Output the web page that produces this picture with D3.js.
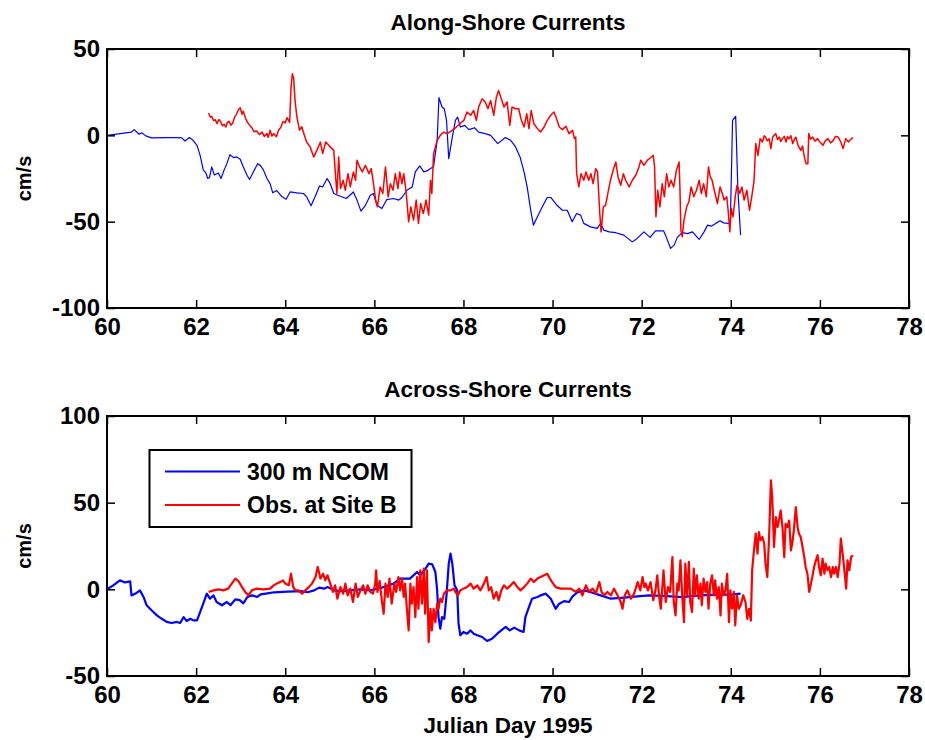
<!DOCTYPE html>
<html>
<head>
<meta charset="utf-8">
<script src="https://cdn.jsdelivr.net/npm/d3@7"></script>
<style>
  html, body { margin: 0; padding: 0; background: #fff; }
  svg { display: block; }
  text { font-family: "Liberation Sans", Arial, Helvetica, sans-serif; font-weight: bold; fill: #000; }
</style>
</head>
<body>
<svg id="chart" width="925" height="740"></svg>
<script>
// ---------------- DATA ----------------
const xTicks = [60, 62, 64, 66, 68, 70, 72, 74, 76, 78];
const alongTicks = [-100, -50, 0, 50];
const acrossTicks = [-50, 0, 50, 100];
const titles = ["Along-Shore Currents", "Across-Shore Currents"];
const seriesNames = ["300 m NCOM", "Obs. at Site B"];
const xLabel = "Julian Day 1995";
const yLabel = "cm/s";

// Along-shore, model (day, cm/s)
const alongModel = [[60,0],[60.55,1.9],[60.61,3.3],[60.72,0.6],[60.78,1.5],[60.87,-0.3],[61.0,-1.5],[61.34,-1.3],[61.57,-1.3],[61.68,-1.5],[61.75,-3.3],[61.85,-1.3],[61.93,-2.9],[62.02,-5.8],[62.09,-11.6],[62.16,-20],[62.22,-21.8],[62.26,-25],[62.3,-24.5],[62.35,-18.3],[62.41,-23],[62.5,-21.8],[62.56,-25],[62.63,-20],[62.69,-16.4],[62.76,-11.2],[62.84,-12.9],[62.91,-12.5],[62.99,-13.9],[63.06,-18.3],[63.14,-23],[63.2,-25.6],[63.29,-21],[63.38,-16.4],[63.44,-17.4],[63.51,-20],[63.59,-25],[63.66,-28],[63.72,-33.3],[63.81,-32],[63.93,-35.6],[64.02,-37],[64.11,-32.8],[64.26,-33.3],[64.41,-33.7],[64.48,-35.6],[64.58,-40.8],[64.67,-35.6],[64.77,-29.3],[64.84,-29.9],[64.94,-25],[65.01,-28],[65.09,-33.7],[65.18,-34.7],[65.37,-36.6],[65.53,-32.8],[65.61,-37.5],[65.7,-43.9],[65.8,-40.5],[65.91,-34.7],[65.98,-33.7],[66.06,-40.5],[66.17,-42.4],[66.28,-37.2],[66.43,-36.6],[66.55,-37.5],[66.62,-36],[66.73,-31.8],[66.85,-29.9],[66.92,-21.2],[67.02,-17.7],[67.11,-21.2],[67.18,-20.6],[67.33,-18],[67.41,-2.9],[67.45,21.8],[67.52,16.4],[67.57,15.4],[67.62,8.7],[67.67,-13.5],[67.75,-1],[67.82,8.7],[67.87,10.6],[67.93,4.8],[68.03,5.8],[68.12,3.3],[68.25,4.4],[68.34,1.9],[68.49,1.0],[68.61,0],[68.77,-4.8],[68.94,-1.3],[69.06,-2.9],[69.17,-6.7],[69.27,-12.5],[69.36,-21.2],[69.43,-29.9],[69.51,-43.4],[69.57,-52],[69.66,-47.2],[69.77,-41.4],[69.88,-36],[69.96,-36],[70.1,-40.5],[70.22,-43.4],[70.33,-43.4],[70.44,-50.1],[70.54,-45.3],[70.63,-46.2],[70.7,-51],[70.85,-53],[71.0,-53.9],[71.08,-51],[71.15,-54.9],[71.27,-55.9],[71.42,-56.4],[71.6,-57.8],[71.79,-61.7],[71.9,-59.7],[72.05,-55.9],[72.19,-59.1],[72.31,-55.3],[72.49,-55.3],[72.55,-58.8],[72.65,-65.5],[72.73,-63.6],[72.8,-59.1],[72.91,-56.4],[73.03,-56.9],[73.14,-55.9],[73.29,-60.3],[73.4,-55.9],[73.48,-52],[73.56,-52.6],[73.66,-51],[73.76,-49.5],[73.84,-50.7],[73.94,-51],[73.99,-51],[74.04,8.7],[74.11,11],[74.16,-31.8],[74.22,-57.8]];

// Along-shore, observations (day, cm/s)
const alongObs = [[62.28,12.9],[62.32,10.5],[62.35,11],[62.39,8.6],[62.43,9],[62.47,6.8],[62.51,9.2],[62.55,8],[62.59,5.5],[62.63,6.4],[62.67,4.8],[62.7,7.4],[62.74,8.1],[62.78,5.9],[62.82,7],[62.86,10.2],[62.91,12.5],[62.95,14.8],[62.99,16],[63.03,12.2],[63.06,14],[63.1,10.5],[63.14,8],[63.19,6.2],[63.25,4.4],[63.3,2.1],[63.36,2.5],[63.42,0.4],[63.48,1.9],[63.53,-0.6],[63.59,1],[63.62,-1.2],[63.66,2.9],[63.7,-0.4],[63.74,1],[63.8,-0.8],[63.85,2.9],[63.9,4.6],[63.95,8],[64.0,7.2],[64.04,10.2],[64.1,7.5],[64.13,27.9],[64.16,35.6],[64.19,33],[64.22,20.2],[64.26,11],[64.32,3],[64.37,5],[64.43,0],[64.48,-3.9],[64.56,-6.7],[64.64,-12.5],[64.71,-8.7],[64.79,-3.9],[64.84,-10.6],[64.91,-3.9],[65.01,-6.7],[65.09,-8.7],[65.12,-20],[65.16,-33.7],[65.2,-12.5],[65.24,-30.8],[65.3,-26],[65.35,-31.8],[65.41,-22.2],[65.46,-29.9],[65.53,-21.2],[65.58,-26],[65.61,-14.4],[65.67,-18.3],[65.73,-21.2],[65.8,-17.4],[65.88,-22.2],[65.93,-19.3],[65.97,-26],[66.03,-37.5],[66.07,-41.4],[66.13,-29.9],[66.19,-33.7],[66.25,-18.3],[66.31,-35.6],[66.36,-28],[66.42,-31.8],[66.47,-22.2],[66.53,-30.8],[66.57,-21.2],[66.62,-28],[66.66,-22.2],[66.7,-29.9],[66.73,-37.5],[66.77,-50.1],[66.82,-41.4],[66.88,-49.1],[66.94,-37.5],[66.99,-51],[67.04,-39.5],[67.1,-45.3],[67.16,-37.5],[67.22,-46.2],[67.26,-26],[67.29,-33.7],[67.33,-10.6],[67.37,-6.7],[67.41,-2.9],[67.48,0],[67.56,1.9],[67.63,1],[67.75,2.9],[67.84,4.8],[67.92,6.7],[68.01,8.7],[68.08,13.5],[68.16,11.6],[68.23,14.4],[68.29,8.7],[68.34,16.4],[68.42,21.2],[68.49,19.3],[68.55,15.4],[68.61,20.2],[68.68,11.6],[68.74,22.2],[68.79,26],[68.85,21.2],[68.91,16.4],[68.98,19.3],[69.04,5.8],[69.09,16.4],[69.17,15.4],[69.24,15.4],[69.3,8.7],[69.36,4.8],[69.42,12.5],[69.47,3.9],[69.52,14.4],[69.58,6.7],[69.66,3.9],[69.73,1.9],[69.81,4.8],[69.88,8.7],[69.96,11.6],[70.03,13.5],[70.09,9.6],[70.15,4.8],[70.22,3.3],[70.3,5.2],[70.37,1],[70.45,2.9],[70.49,-1.9],[70.52,-1],[70.54,-22.2],[70.59,-29.9],[70.64,-22.2],[70.7,-26],[70.75,-21.2],[70.81,-26],[70.86,-22.2],[70.91,-28],[70.97,-19.3],[71.01,-21.2],[71.06,-45.3],[71.09,-55.9],[71.14,-41.4],[71.19,-40.5],[71.24,-33.7],[71.3,-26],[71.36,-20.2],[71.42,-15.4],[71.47,-24.1],[71.53,-28.9],[71.59,-22.2],[71.64,-26],[71.72,-29.9],[71.79,-26],[71.87,-23],[71.94,-18.3],[71.98,-14.4],[72.05,-17.4],[72.13,-14.4],[72.2,-13],[72.26,-11.6],[72.29,-18.3],[72.32,-47.2],[72.36,-31.8],[72.41,-41.4],[72.46,-28],[72.51,-35.6],[72.56,-22.2],[72.61,-29.9],[72.66,-26],[72.72,-29.9],[72.78,-20.2],[72.84,-15.4],[72.86,-31.8],[72.88,-54.9],[72.91,-58.8],[72.95,-49.1],[73.01,-41.4],[73.06,-38.5],[73.11,-29.9],[73.17,-35.6],[73.23,-31.8],[73.29,-26],[73.34,-33.7],[73.39,-28],[73.45,-35.6],[73.5,-18.3],[73.54,-24.1],[73.58,-26],[73.63,-31.8],[73.7,-39.5],[73.76,-29.9],[73.81,-33.7],[73.85,-37.5],[73.91,-35.6],[73.94,-43.4],[73.98,-55.9],[74.01,-42.4],[74.05,-47.2],[74.1,-35.6],[74.14,-28.9],[74.2,-33.7],[74.25,-29.9],[74.3,-37.5],[74.36,-31.8],[74.42,-43.4],[74.47,-35.6],[74.52,-27],[74.56,-4.8],[74.61,-11.6],[74.66,-1.9],[74.71,-3.9],[74.75,-0.2],[74.78,-1],[74.82,-3.2],[74.86,-1.9],[74.9,-7.7],[74.94,-1],[74.98,0.2],[75.01,1],[75.05,-2.4],[75.09,-1],[75.12,-3.6],[75.16,-1.9],[75.2,-0.6],[75.24,-3.9],[75.27,-0.8],[75.31,-1.9],[75.35,-0.2],[75.39,-4.8],[75.43,-2.2],[75.46,-1],[75.51,-5.8],[75.57,-8.7],[75.61,-6.2],[75.65,-12.5],[75.69,-16.4],[75.73,-16.4],[75.75,1],[75.79,-2.2],[75.84,-1],[75.89,-3.4],[75.95,-1.9],[76.01,-4.2],[76.07,-5.8],[76.12,-3.2],[76.18,-1.9],[76.24,-4.4],[76.3,-2.9],[76.35,-0.6],[76.41,-1],[76.47,-3.9],[76.52,-7.7],[76.58,-1.9],[76.64,-3.9],[76.71,-1.9],[76.74,-1.3]];

// Across-shore, model (day, cm/s)
const acrossModel = [[60,0],[60.14,2.3],[60.29,5.2],[60.4,4],[60.52,4.6],[60.55,-3.5],[60.65,-2.3],[60.74,-0.6],[60.82,-4.4],[60.89,-9.2],[61.0,-12.1],[61.12,-15],[61.23,-17],[61.34,-18.8],[61.45,-19.4],[61.57,-18.8],[61.64,-19.4],[61.72,-16],[61.79,-18.3],[61.87,-17],[61.94,-17.9],[62.02,-17.9],[62.09,-13.1],[62.16,-8.3],[62.24,-2.5],[62.31,-5.4],[62.39,-3.5],[62.46,-7.3],[62.58,-9.2],[62.69,-7.3],[62.77,-9.2],[62.88,-5.8],[62.98,-6.2],[63.06,-8.1],[63.15,-4.4],[63.26,-3.5],[63.37,-4.4],[63.45,-2.9],[63.6,-2.3],[63.75,-1.7],[64.05,-1.3],[64.35,-1],[64.5,-1.7],[64.65,-0.6],[64.76,1],[64.88,0.4],[64.95,1.3],[65.1,-0.6],[65.25,-1],[65.5,-0.5],[65.7,0],[65.91,-0.6],[66.21,1.3],[66.43,3.3],[66.58,6.2],[66.8,6.2],[66.96,10],[67.03,8],[67.15,12],[67.22,14.8],[67.3,14.4],[67.37,10],[67.41,-0.6],[67.44,-16],[67.48,-22.7],[67.52,-16],[67.57,-17],[67.62,-3.5],[67.67,14.8],[67.71,20.6],[67.75,14.8],[67.8,2.3],[67.86,-0.6],[67.89,-19.8],[67.93,-26.5],[68.0,-24.6],[68.08,-25.6],[68.16,-23.7],[68.23,-25.6],[68.31,-26.5],[68.42,-27.5],[68.53,-29.8],[68.64,-28.5],[68.76,-25.6],[68.87,-23.3],[68.95,-21.7],[69.04,-23.7],[69.14,-22.1],[69.25,-23.7],[69.35,-24.6],[69.39,-16],[69.47,-10.2],[69.54,-5.4],[69.66,-4.4],[69.73,-3.5],[69.85,-2.5],[69.96,-5.4],[70.07,-11.2],[70.15,-8.3],[70.26,-6.8],[70.37,-7.3],[70.45,-4.1],[70.56,-1.7],[70.71,-0.6],[70.86,-1.7],[71.08,-3.5],[71.31,-5.4],[71.61,-4.8],[71.9,-4.1],[72.17,-3.5],[72.5,-3.8],[72.9,-4.5],[73.3,-3.5],[73.7,-3],[74.0,-3],[74.22,-2.5]];

// Across-shore, observations (day, cm/s)
const acrossObs = [[62.28,-1.5],[62.39,-0.6],[62.5,0],[62.61,-0.6],[62.72,0.4],[62.8,3.3],[62.88,6.2],[62.95,4.8],[63.03,1.3],[63.1,-1.5],[63.18,-3.5],[63.25,-0.6],[63.36,0.4],[63.51,0],[63.66,0.4],[63.74,2.3],[63.81,3.3],[63.89,4.2],[63.95,5.2],[64.0,3.3],[64.08,2.3],[64.13,9],[64.18,1.3],[64.23,-0.6],[64.3,-0.6],[64.38,-2.5],[64.45,-0.6],[64.53,1.3],[64.6,3.3],[64.68,7.1],[64.73,12.9],[64.79,6.2],[64.85,9],[64.9,5.2],[64.95,8.1],[65.01,3.3],[65.07,-1.5],[65.12,2.3],[65.17,-5.4],[65.24,1.3],[65.3,-2.5],[65.35,3.3],[65.4,-3.5],[65.46,0.4],[65.52,-7.3],[65.58,3.3],[65.63,-4.4],[65.69,-0.6],[65.75,2.3],[65.8,-2.5],[65.85,2.3],[65.91,-1.5],[65.97,-2.5],[66.02,3.3],[66.04,10.9],[66.07,-1.5],[66.12,4.8],[66.17,-6.8],[66.21,-14.1],[66.25,3.3],[66.3,-4.4],[66.34,6.2],[66.39,-8.3],[66.45,3.3],[66.49,-1.5],[66.54,7.1],[66.58,-0.6],[66.62,6.2],[66.66,-4.4],[66.69,3.3],[66.73,-11.2],[66.77,-23.7],[66.81,3.3],[66.84,-8.3],[66.88,1.3],[66.92,-16],[66.96,7.1],[66.99,-11.2],[67.03,11],[67.07,-8.3],[67.11,12],[67.14,-14.1],[67.18,11],[67.22,-30.4],[67.26,-11.2],[67.29,-23.7],[67.33,-11.2],[67.37,-19],[67.41,-8.3],[67.44,-11.2],[67.48,-5.4],[67.52,-7.3],[67.56,-2.5],[67.63,-0.6],[67.71,-0.6],[67.78,0.4],[67.87,-3.5],[67.93,-0.6],[68.0,0.4],[68.08,1.3],[68.16,3.3],[68.23,0.4],[68.31,2.3],[68.38,-0.6],[68.46,3.3],[68.52,7.1],[68.57,-0.6],[68.62,1.3],[68.68,-5.4],[68.74,-1.5],[68.79,-6.3],[68.85,-0.6],[68.91,2.3],[68.98,0.4],[69.06,2.3],[69.13,4.2],[69.21,1.3],[69.28,-0.6],[69.36,1.3],[69.43,3.3],[69.51,6.2],[69.58,4.2],[69.66,6.2],[69.73,7.1],[69.81,8.1],[69.88,9],[69.94,6.2],[69.99,4.2],[70.07,1.3],[70.18,0.4],[70.3,0.4],[70.41,0.4],[70.52,-1.5],[70.6,0.4],[70.67,-3.5],[70.75,2.3],[70.82,-1.5],[70.9,0.4],[70.97,-2.5],[71.05,4.2],[71.1,-1.5],[71.16,-3.5],[71.23,-1.5],[71.31,-3.5],[71.38,0.4],[71.46,-3.5],[71.53,-7.3],[71.57,-11.2],[71.62,-3.5],[71.68,-0.6],[71.76,-5.4],[71.83,-2.5],[71.91,4.2],[71.97,-0.6],[72.02,7.1],[72.06,1.3],[72.09,3.3],[72.14,-0.6],[72.2,4.2],[72.26,-6.3],[72.31,-0.6],[72.35,8.1],[72.39,-3.5],[72.43,-11.2],[72.49,11],[72.54,-7.3],[72.59,1.3],[72.64,-1.5],[72.69,18.6],[72.72,-7.3],[72.76,-15],[72.8,3.3],[72.83,-0.6],[72.87,16.7],[72.91,-3.5],[72.95,-19],[72.98,14.8],[73.02,-3.5],[73.06,15.8],[73.09,-7.3],[73.13,-13.1],[73.17,12],[73.2,-3.5],[73.24,8.1],[73.28,-5.4],[73.32,3.3],[73.35,-9.2],[73.39,6.2],[73.43,-1.5],[73.47,4.2],[73.5,-11.2],[73.54,3.3],[73.58,8.1],[73.62,-3.5],[73.65,5.2],[73.69,-5.4],[73.73,1.3],[73.77,-15],[73.8,3.3],[73.84,-3.5],[73.88,-0.6],[73.92,9],[73.96,-19],[73.99,-0.6],[74.03,-11.2],[74.07,-1.5],[74.1,-20.8],[74.14,-3.5],[74.18,-11.2],[74.22,-9.2],[74.28,-3.5],[74.33,-7.3],[74.37,-17],[74.41,-11.2],[74.45,-18.1],[74.48,11],[74.52,22.5],[74.56,32.1],[74.6,20.6],[74.63,33],[74.67,28.3],[74.71,30.2],[74.75,26.4],[74.78,14.8],[74.82,7.1],[74.86,30.2],[74.9,62.9],[74.93,53.3],[74.97,24.4],[75.01,41.7],[75.05,35.9],[75.08,39.7],[75.12,45.5],[75.16,35.9],[75.2,18.6],[75.23,37.8],[75.27,35.9],[75.31,39.7],[75.35,22.5],[75.38,26.4],[75.42,35],[75.46,47.4],[75.5,35.9],[75.53,32.1],[75.57,30.2],[75.61,24.4],[75.65,18.6],[75.68,12.9],[75.72,9],[75.76,-1.5],[75.8,3.3],[75.83,7.1],[75.87,12.9],[75.91,16.7],[75.95,19.7],[75.98,12.9],[76.02,8.1],[76.06,17.7],[76.1,9],[76.13,14.8],[76.17,11],[76.21,12.9],[76.25,7.1],[76.29,12.9],[76.32,9],[76.36,12.9],[76.4,7.1],[76.44,14.8],[76.47,29.3],[76.51,20.6],[76.55,11],[76.59,0.4],[76.62,16.7],[76.66,11],[76.7,18.6],[76.74,19.7]];

const colors = ["#0000ff", "#ff0000"];

// ---------------- CHART ----------------
const svg = d3.select("#chart");
svg.append("rect").attr("width", 925).attr("height", 740).attr("fill", "#fff");

const x = d3.scaleLinear().domain([60, 78]).range([107, 909]);
const fmt = d => String(d); // plain hyphen-minus, as in the original

function panel(cfg) {
  const y = d3.scaleLinear().domain(cfg.domain).range([cfg.bottom, cfg.top]);
  const g = svg.append("g");
  const line = d3.line().x(d => x(d[0])).y(d => y(d[1]));

  const clipId = "clip" + cfg.id;
  svg.append("clipPath").attr("id", clipId)
    .append("rect").attr("x", x.range()[0]).attr("y", cfg.top)
    .attr("width", x.range()[1] - x.range()[0]).attr("height", cfg.bottom - cfg.top);

  const plot = g.append("g").attr("clip-path", `url(#${clipId})`);
  cfg.series.forEach((s, i) => {
    plot.append("path").datum(s)
      .attr("fill", "none").attr("stroke", colors[i])
      .attr("stroke-width", cfg.lw[i]).attr("stroke-linejoin", "round")
      .attr("d", line);
  });

  const tk = 8;
  const axB = g.append("g").attr("transform", `translate(0,${cfg.bottom})`)
    .call(d3.axisBottom(x).tickValues(xTicks).tickSizeInner(-tk).tickSizeOuter(0).tickPadding(10).tickFormat(fmt));
  const axT = g.append("g").attr("transform", `translate(0,${cfg.top})`)
    .call(d3.axisTop(x).tickValues(xTicks).tickSizeInner(-tk).tickSizeOuter(0).tickFormat(""));
  const axL = g.append("g").attr("transform", `translate(${x.range()[0]},0)`)
    .call(d3.axisLeft(y).tickValues(cfg.ticks).tickSizeInner(-tk).tickSizeOuter(0).tickPadding(7).tickFormat(fmt));
  const axR = g.append("g").attr("transform", `translate(${x.range()[1]},0)`)
    .call(d3.axisRight(y).tickValues(cfg.ticks).tickSizeInner(-tk).tickSizeOuter(0).tickFormat(""));
  [axB, axT, axL, axR].forEach(a => {
    a.select(".domain").remove();
    a.selectAll("line").attr("stroke", "#000").attr("stroke-width", 1.5);
    a.selectAll("text").attr("font-size", 24).attr("font-weight", "bold")
      .attr("font-family", '"Liberation Sans", Arial, sans-serif').attr("fill", "#000");
  });

  g.append("rect").attr("x", x.range()[0]).attr("y", cfg.top)
    .attr("width", x.range()[1] - x.range()[0]).attr("height", cfg.bottom - cfg.top)
    .attr("fill", "none").attr("stroke", "#000").attr("stroke-width", 2);

  g.append("text").attr("x", (x.range()[0] + x.range()[1]) / 2).attr("y", cfg.titleY)
    .attr("text-anchor", "middle").attr("font-size", 22.5).text(cfg.title);

  const cy = (cfg.top + cfg.bottom) / 2;
  g.append("text").attr("transform", `translate(31,${cy}) rotate(-90)`)
    .attr("text-anchor", "middle").attr("font-size", 20).text(yLabel);
  return y;
}

panel({ id: 1, domain: [-100, 50], top: 49, bottom: 308, ticks: alongTicks,
        series: [alongModel, alongObs], lw: [1.2, 1.5], title: titles[0], titleY: 30 });
panel({ id: 2, domain: [-50, 100], top: 416, bottom: 676, ticks: acrossTicks,
        series: [acrossModel, acrossObs], lw: [2.2, 2.2], title: titles[1], titleY: 397 });

svg.append("text").attr("x", 508).attr("y", 733).attr("text-anchor", "middle")
  .attr("font-size", 22.5).text(xLabel);

// Legend
const lg = svg.append("g");
lg.append("rect").attr("x", 149.5).attr("y", 450).attr("width", 262).attr("height", 77)
  .attr("fill", "#fff").attr("stroke", "#000").attr("stroke-width", 2);
seriesNames.forEach((name, i) => {
  const ly = 471.5 + i * 33.5;
  lg.append("line").attr("x1", 165).attr("x2", 240).attr("y1", ly).attr("y2", ly)
    .attr("stroke", colors[i]).attr("stroke-width", 2);
  lg.append("text").attr("x", 247).attr("y", ly + 8).attr("font-size", 23).text(name);
});
</script>
</body>
</html>
